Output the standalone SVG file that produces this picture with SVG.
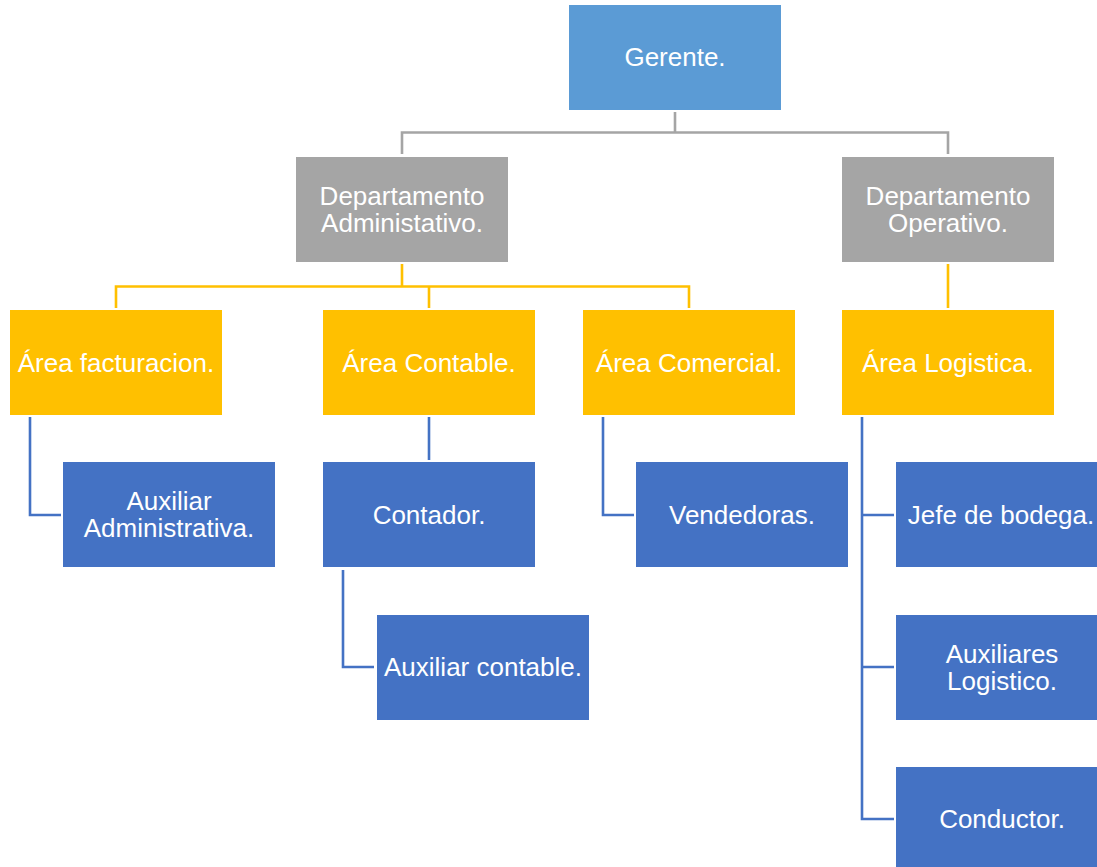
<svg xmlns="http://www.w3.org/2000/svg" width="1097" height="867" viewBox="0 0 1097 867">
<style>
.t{font-family:"Liberation Sans",Arial,sans-serif;font-size:26px;fill:#FFFFFF;text-anchor:middle}
.g{fill:#5B9BD5}
.d{fill:#A5A5A5}
.y{fill:#FFC000}
.b{fill:#4472C4}
.cg{stroke:#A5A5A5;stroke-width:2.6;fill:none}
.cy{stroke:#FFC000;stroke-width:2.6;fill:none}
.cb{stroke:#4472C4;stroke-width:2.6;fill:none}
</style>
<rect width="1097" height="867" fill="#FFFFFF"/>
<g id="connectors">
<path class="cg" d="M675,112 V132.5 M402,154 V132.5 H948 V154"/>
<path class="cy" d="M402,264 V286.5 M116,308 V286.5 H689 V308 M429,286.5 V308 M948,264 V308"/>
<path class="cb" d="M30,417 V515 H61"/>
<path class="cb" d="M429,417 V460"/>
<path class="cb" d="M343,570 V667 H374"/>
<path class="cb" d="M603,417 V515 H634"/>
<path class="cb" d="M862,417 V819 H894 M862,515 H894 M862,667 H894"/>
</g>
<g id="gerente"><rect class="g" x="569" y="5" width="212" height="105"/><text class="t" x="675" y="66">Gerente.</text></g>
<g id="dep-admin"><rect class="d" x="296" y="157" width="212" height="105"/><text class="t" x="402" y="205">Departamento</text><text class="t" x="402" y="232">Administativo.</text></g>
<g id="dep-oper"><rect class="d" x="842" y="157" width="212" height="105"/><text class="t" x="948" y="205">Departamento</text><text class="t" x="948" y="232">Operativo.</text></g>
<g id="area-fact"><rect class="y" x="10" y="310" width="212" height="105"/><text class="t" x="116" y="372">Área facturacion.</text></g>
<g id="area-cont"><rect class="y" x="323" y="310" width="212" height="105"/><text class="t" x="429" y="372">Área Contable.</text></g>
<g id="area-com"><rect class="y" x="583" y="310" width="212" height="105"/><text class="t" x="689" y="372">Área Comercial.</text></g>
<g id="area-log"><rect class="y" x="842" y="310" width="212" height="105"/><text class="t" x="948" y="372">Área Logistica.</text></g>
<g id="aux-admin"><rect class="b" x="63" y="462" width="212" height="105"/><text class="t" x="169" y="510">Auxiliar</text><text class="t" x="169" y="537">Administrativa.</text></g>
<g id="contador"><rect class="b" x="323" y="462" width="212" height="105"/><text class="t" x="429" y="524">Contador.</text></g>
<g id="aux-cont"><rect class="b" x="377" y="615" width="212" height="105"/><text class="t" x="483" y="676">Auxiliar contable.</text></g>
<g id="vendedoras"><rect class="b" x="636" y="462" width="212" height="105"/><text class="t" x="742" y="524">Vendedoras.</text></g>
<g id="jefe"><rect class="b" x="896" y="462" width="212" height="105"/><text class="t" x="1001" y="524">Jefe de bodega.</text></g>
<g id="aux-log"><rect class="b" x="896" y="615" width="212" height="105"/><text class="t" x="1002" y="663">Auxiliares</text><text class="t" x="1002" y="690">Logistico.</text></g>
<g id="conductor"><rect class="b" x="896" y="767" width="212" height="105"/><text class="t" x="1002" y="828">Conductor.</text></g>
</svg>
